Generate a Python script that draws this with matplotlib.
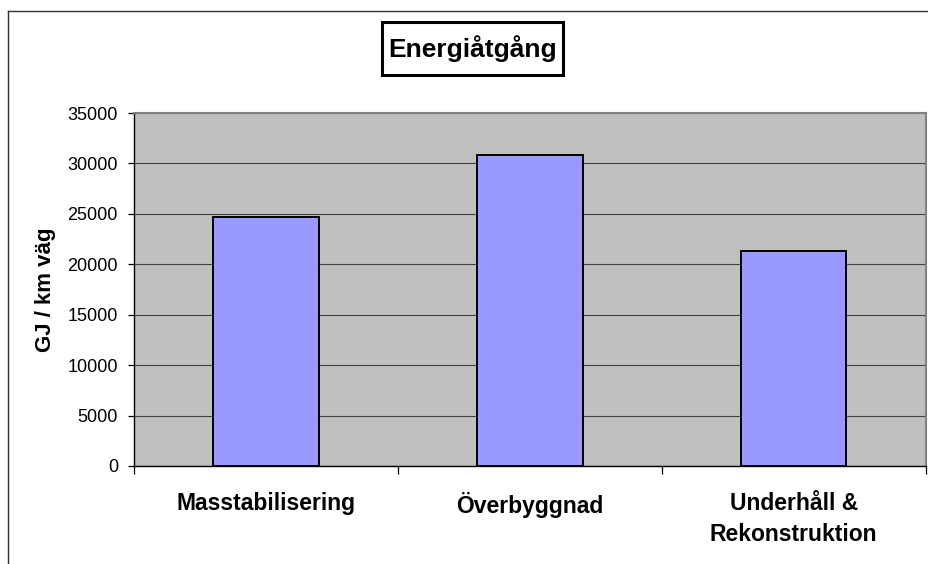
import matplotlib.pyplot as plt
from matplotlib.patches import Rectangle
from matplotlib.lines import Line2D

plt.rcParams['font.family'] = ['Liberation Sans', 'DejaVu Sans']

# energy use per km road, three phases
categories = ["Masstabilisering", "Överbyggnad", "Underhåll &\nRekonstruktion"]
energy_gj = [24700, 30850, 21300]
y_ticks = [0, 5000, 10000, 15000, 20000, 25000, 30000, 35000]

fig = plt.figure(figsize=(9.29, 5.64), dpi=100)
ax = fig.add_axes([0.1442, 0.1738, 0.8521, 0.6258])
ax.set_facecolor('#C0C0C0')

x = list(range(len(categories)))
ax.bar(x, energy_gj, width=0.4, color='#9999FF', edgecolor='black',
       linewidth=1.4, zorder=3)

ax.set_xlim(-0.5, len(categories) - 0.5)
ax.set_ylim(0, 35000)
ax.set_yticks(y_ticks)
ax.set_yticklabels([str(t) for t in y_ticks])
ax.yaxis.grid(True, color='#404040', linewidth=0.8, zorder=1)
ax.set_axisbelow(True)

# category boundaries get the tick marks, labels sit in between
ax.set_xticks([i - 0.5 for i in range(len(categories) + 1)])
ax.set_xticklabels([])
ax.set_xticks(x, minor=True)
ax.set_xticklabels(categories, minor=True, fontsize=16.5, fontweight='bold',
                   linespacing=1.4)
ax.tick_params(axis='x', which='major', direction='out', length=6, width=0.9)
ax.tick_params(axis='x', which='minor', length=0, pad=19)
ax.tick_params(axis='y', direction='out', length=4.5, width=0.9, pad=7,
               labelsize=13)

ax.set_ylabel('GJ / km väg', fontsize=16, fontweight='bold', va='center')
ax.yaxis.set_label_coords(-0.112, 0.5)

for side in ['left', 'bottom']:
    ax.spines[side].set_color('black')
    ax.spines[side].set_linewidth(1.0)
for side in ['top', 'right']:
    ax.spines[side].set_color('#808080')
    ax.spines[side].set_linewidth(1.5)

# chart frame (left and top edges)
fig.add_artist(Line2D([8 / 929, 8 / 929], [0, 1 - 11 / 564],
                      transform=fig.transFigure, color='#303030', lw=1.0))
fig.add_artist(Line2D([8 / 929, 1], [1 - 11 / 564, 1 - 11 / 564],
                      transform=fig.transFigure, color='#303030', lw=1.0))

# boxed title
fig.add_artist(Rectangle((382 / 929, 1 - 75 / 564), 181 / 929, 53 / 564,
                         transform=fig.transFigure, facecolor='white',
                         edgecolor='black', linewidth=2.2))
fig.text(472.5 / 929, 1 - 48.5 / 564, 'Energiåtgång', ha='center', va='center',
         fontsize=19, fontweight='bold')

fig.savefig('out.png', dpi=100)
